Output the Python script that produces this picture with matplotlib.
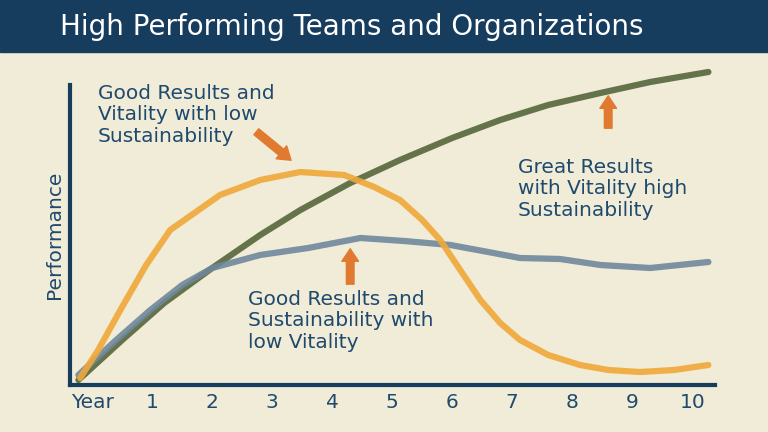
import matplotlib
matplotlib.use("Agg")
import matplotlib.pyplot as plt
from matplotlib.patches import Rectangle

tick_labels = ["Year", "1", "2", "3", "4", "5", "6", "7", "8", "9", "10"]
green_x = [-0.23, 0.5, 1.2, 2, 2.8, 3.47, 4.3, 5.13, 6.0, 6.8, 7.6, 8.47, 9.3, 10.27]
green_y = [5, 45, 82, 117, 150, 175, 202, 225, 247, 265, 280, 292, 303, 313]
blue_x = [-0.23, 0.4, 0.97, 1.5, 2, 2.8, 3.6, 4.47, 5.2, 5.97, 6.6, 7.13, 7.8, 8.47, 9.3, 10.27]
blue_y = [10, 45, 75, 100, 117, 130, 137, 147, 144, 140, 133, 127, 126, 120, 117, 123]
orange_x = [-0.2, 0.1, 0.47, 0.9, 1.3, 2.13, 2.8, 3.47, 4.2, 4.7, 5.13, 5.5, 5.8, 6.1, 6.47, 6.8, 7.13, 7.6, 8.13, 8.6, 9.13, 9.7, 10.27]
orange_y = [7, 35, 75, 120, 155, 190, 205, 213, 210, 198, 185, 165, 145, 118, 85, 62, 45, 30, 20, 15, 13, 15, 20]

bg = "#f0ecd8"
navy = "#163c5e"
txt = "#1f4a6e"
fig = plt.figure(figsize=(7.68, 4.32), dpi=100, facecolor=bg)
fig.add_artist(Rectangle((0, 1 - 52/432), 1, 52/432, transform=fig.transFigure, color=navy))
fig.text(60/768, 1 - 27/432, "High Performing Teams and Organizations", color="white",
         fontsize=20, va="center", ha="left")

ax = fig.add_axes([70/768, 47/432, 645/768, 320/432])
ax.set_facecolor("none")
ax.set_xlim(-0.37, 10.38)
ax.set_ylim(0, 320)
for s in ["top", "right"]:
    ax.spines[s].set_visible(False)
for s in ["left", "bottom"]:
    ax.spines[s].set_color(navy)
    ax.spines[s].set_linewidth(3)
ax.spines["left"].set_bounds(0, 300)
ax.set_yticks([])
ax.set_xticks(range(len(tick_labels)))
ax.set_xticklabels(tick_labels, fontsize=14.5, color=txt)
ax.tick_params(axis="x", length=0, pad=6)
ax.set_ylabel("Performance", fontsize=14.5, color=txt, y=150/320)

kw = dict(lw=4.5, alpha=0.9, solid_capstyle="round", solid_joinstyle="round", clip_on=False)
ax.plot(green_x, green_y, color="#55663a", **kw)
ax.plot(blue_x, blue_y, color="#6f879b", **kw)
ax.plot(orange_x, orange_y, color="#f0a83a", **kw)

arrow = dict(arrowstyle="simple,head_width=1.2,head_length=0.9,tail_width=0.55", color="#e07a30")
ax.annotate("", xy=(3.35, 223), xytext=(2.7, 255), arrowprops=arrow)
ax.annotate("", xy=(4.3, 139), xytext=(4.3, 98), arrowprops=arrow)
ax.annotate("", xy=(8.6, 292), xytext=(8.6, 254), arrowprops=arrow)

fs = 14.5
fig.text(98/768, 1 - 84/432, "Good Results and\nVitality with low\nSustainability", color=txt,
         fontsize=fs, va="top", ha="left", linespacing=1.15)
fig.text(248/768, 1 - 290/432, "Good Results and\nSustainability with\nlow Vitality", color=txt,
         fontsize=fs, va="top", ha="left", linespacing=1.15)
fig.text(518/768, 1 - 158/432, "Great Results\nwith Vitality high\nSustainability", color=txt,
         fontsize=fs, va="top", ha="left", linespacing=1.15)

fig.savefig("out.png", dpi=100, facecolor=bg)
